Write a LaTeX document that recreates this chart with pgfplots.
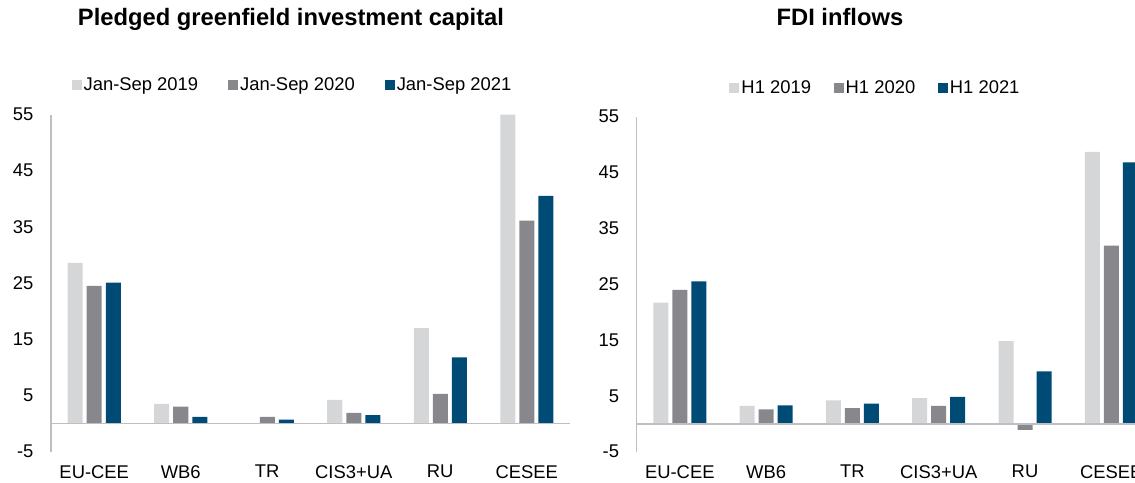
\documentclass[border=0pt]{standalone}
\usepackage{fontspec}
\setmainfont{Liberation Sans}
\usepackage{pgfplots}
\pgfplotsset{compat=1.18}
\definecolor{cLight}{HTML}{D5D6D8}
\definecolor{cMid}{HTML}{88878C}
\definecolor{cBlue}{HTML}{004B75}
\definecolor{cAxis}{HTML}{BEBEC3}
\pgfplotsset{
  mystyle/.style={
    scale only axis,
    xmin=-0.5, xmax=5.5, ymin=-5, ymax=55,
    xtick={0,...,5},
    xticklabels={EU-CEE,WB6,TR,CIS3+UA,RU,CESEE},
    ytick={-5,5,15,25,35,45,55},
    major tick length=0pt,
    axis lines=left,
    x axis line style={draw=none},
    y axis line style={draw=cAxis, line width=1.2pt, -},
    tick label style={font=\fontsize{13.8}{16}\selectfont, text=black},
    /pgf/number format/assume math mode=true,
    yticklabel style={inner sep=0pt, xshift=-13pt},
    xticklabel style={inner sep=0pt, anchor=north, yshift=-10pt},
    legend columns=3,
    legend image code/.code={\fill[##1] (0pt,-3.75pt) rectangle (7.5pt,3.75pt);},
    title style={anchor=base, font=\fontsize{17.8}{20}\selectfont\bfseries},
  },
  b1/.style={ybar, bar width=11.25pt, bar shift=-14.25pt, fill=cLight, draw=none},
  b2/.style={ybar, bar width=11.25pt, bar shift=0pt, fill=cMid, draw=none},
  b3/.style={ybar, bar width=11.25pt, bar shift=14.25pt, fill=cBlue, draw=none},
}
\begin{document}
\begin{tikzpicture}
\useasboundingbox (0,0) rectangle (851.25pt,361.5pt);
\clip (0,0) rectangle (851.25pt,361.5pt);
\begin{axis}[mystyle,
  at={(38.25pt,22.725pt)}, anchor=south west,
  width=389.25pt, height=252.9pt,
  title={Pledged greenfield investment capital},
  title style={at={(0.4624,1.2417)}},
  legend style={at={(0.4653,1.0875)}, anchor=center, draw=none, fill=none,
    font=\fontsize{13.8}{16}\selectfont,
    nodes={inner xsep=1.5pt, inner ysep=0pt},
    /tikz/every even column/.append style={column sep=21pt}},
]
\addplot[b1] coordinates {(0,28.6) (1,3.5) (2,0) (3,4.2) (4,17.0) (5,55.0)};
\addplot[b2] coordinates {(0,24.5) (1,3.0) (2,1.2) (3,1.9) (4,5.3) (5,36.1)};
\addplot[b3] coordinates {(0,25.1) (1,1.2) (2,0.7) (3,1.5) (4,11.8) (5,40.5)};
\legend{Jan-Sep 2019, Jan-Sep 2020, Jan-Sep 2021}
\draw[cAxis, line width=1.2pt] (axis cs:-0.5,0) -- (axis cs:5.5,0);
\end{axis}
\begin{axis}[mystyle,
  at={(477.5pt,22.725pt)}, anchor=south west,
  width=388.35pt, height=251.25pt,
  title={FDI inflows},
  title style={at={(0.3926,1.2469)}},
  legend style={at={(0.4612,1.0857)}, anchor=center, draw=none, fill=none,
    font=\fontsize{13.8}{16}\selectfont,
    nodes={inner xsep=1.5pt, inner ysep=0pt},
    /tikz/every even column/.append style={column sep=15.5pt}},
]
\addplot[b1] coordinates {(0,21.7) (1,3.2) (2,4.2) (3,4.6) (4,14.8) (5,48.7)};
\addplot[b2] coordinates {(0,24.0) (1,2.6) (2,2.8) (3,3.2) (4,-1.1) (5,31.9)};
\addplot[b3] coordinates {(0,25.5) (1,3.3) (2,3.6) (3,4.8) (4,9.4) (5,46.8)};
\legend{H1 2019, H1 2020, H1 2021}
\draw[cAxis, line width=1.2pt] (axis cs:-0.5,0) -- (axis cs:5.5,0);
\end{axis}
\end{tikzpicture}
\end{document}
